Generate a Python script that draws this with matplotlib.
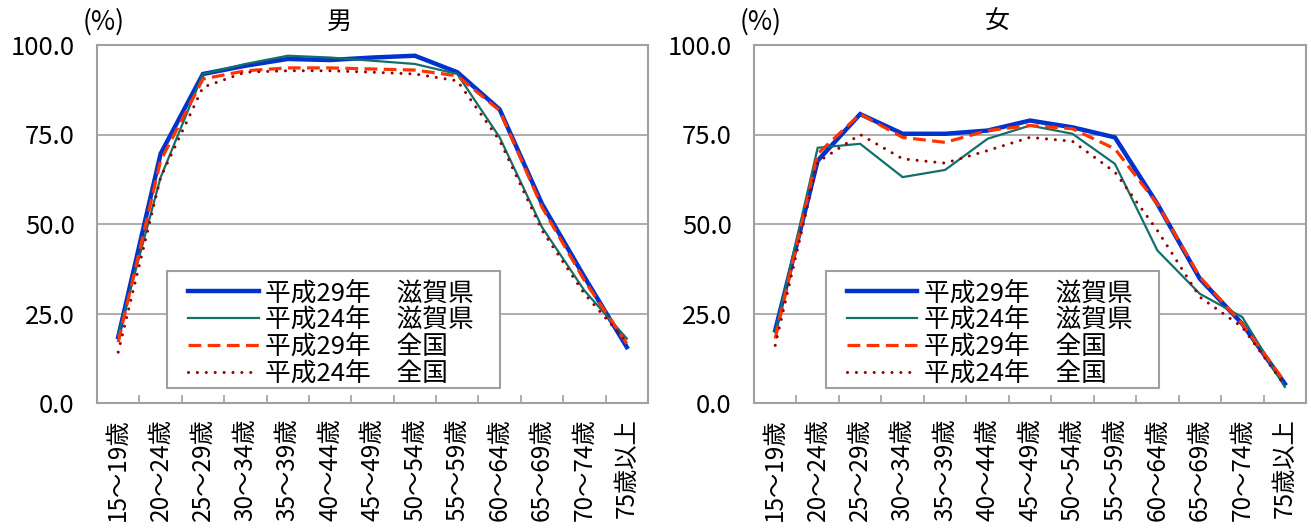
import matplotlib
matplotlib.use('Agg')
import matplotlib.pyplot as plt
from matplotlib.patches import Rectangle
import numpy as np

plt.rcParams['font.family'] = ['Noto Sans CJK JP', 'DejaVu Sans']

# age groups
ages = ['15～19歳', '20～24歳', '25～29歳', '30～34歳', '35～39歳',
        '40～44歳', '45～49歳', '50～54歳', '55～59歳', '60～64歳',
        '65～69歳', '70～74歳', '75歳以上']

series_names = ['平成29年　滋賀県', '平成24年　滋賀県', '平成29年　全国', '平成24年　全国']

# male labour force participation (%)
male_h29_shiga = [18.4, 69.6, 91.9, 94.2, 96.1, 95.8, 96.5, 97.0, 92.4, 82.0, 55.6, 35.2, 15.6]
male_h24_shiga = [18.9, 63.0, 91.9, 94.7, 97.0, 96.5, 95.6, 94.7, 91.9, 74.2, 49.1, 31.4, 18.0]
male_h29_japan = [17.0, 67.7, 90.5, 92.8, 93.6, 93.6, 93.3, 93.0, 91.4, 81.7, 54.7, 34.2, 16.6]
male_h24_japan = [14.2, 63.0, 88.2, 92.4, 92.8, 92.8, 92.4, 91.9, 90.0, 73.3, 48.2, 30.5, 17.0]

# female labour force participation (%)
female_h29_shiga = [20.3, 67.7, 80.7, 75.2, 75.2, 76.1, 78.9, 77.0, 74.2, 55.6, 34.7, 22.1, 5.4]
female_h24_shiga = [19.8, 71.3, 72.4, 63.1, 65.1, 73.8, 77.5, 75.2, 66.8, 42.6, 30.5, 24.0, 4.5]
female_h29_japan = [18.0, 69.6, 80.7, 74.2, 72.8, 76.1, 77.5, 76.6, 71.0, 55.6, 35.2, 22.1, 5.9]
female_h24_japan = [16.1, 67.3, 75.0, 68.2, 67.0, 70.5, 74.2, 73.1, 64.5, 48.2, 29.6, 21.2, 4.9]

yticks = [0, 25, 50, 75, 100]

styles = [dict(color='#0033cc', lw=3.2, ls='-'),
          dict(color='#12706a', lw=1.6, ls='-'),
          dict(color='#ff3300', lw=2.3, ls=(0, (4, 2))),
          dict(color='#990000', lw=2.2, ls=(0, (0.01, 2.9)), dash_capstyle='round')]

fig = plt.figure(figsize=(13.11, 5.28), dpi=100)
ax_m = fig.add_axes([97/1311, 1-403/528, 551/1311, 358/528])
ax_f = fig.add_axes([754/1311, 1-403/528, 552/1311, 358/528])

# legend box left edge (axes fraction) per panel
panels = [(ax_m, '男', 0.127, [male_h29_shiga, male_h24_shiga, male_h29_japan, male_h24_japan]),
          (ax_f, '女', 0.130, [female_h29_shiga, female_h24_shiga, female_h29_japan, female_h24_japan])]

x = np.arange(len(ages))
for ax, title, lx, data in panels:
    for vals, name, st in zip(data, series_names, styles):
        ax.plot(x, vals, label=name, solid_joinstyle='miter', **st)
    ax.set_xlim(-0.5, len(ages)-0.5)
    ax.set_ylim(0, 100)
    ax.set_yticks(yticks)
    ax.set_yticklabels(['%.1f' % v for v in yticks], fontsize=18.5)
    ax.tick_params(axis='y', length=0, pad=16)
    ax.set_xticks(x)
    ax.set_xticklabels(ages, rotation=90, fontsize=17.5)
    ax.tick_params(axis='x', which='major', length=0, pad=11)
    ax.set_xticks(np.arange(0.5, len(ages)-1, 1), minor=True)
    ax.tick_params(axis='x', which='minor', direction='in', length=6, color='#a0a0a0', width=1.2)
    ax.grid(axis='y', color='#a0a0a0', lw=1.2)
    ax.set_axisbelow(True)
    for sp in ax.spines.values():
        sp.set_color('#a0a0a0')
        sp.set_linewidth(1.5)
    ax.text(0.44, 1.065, title, transform=ax.transAxes, ha='center', va='center', fontsize=18)
    ax.text(0.012, 1.065, '(%)', transform=ax.transAxes, ha='center', va='center', fontsize=19)
    ax.add_patch(Rectangle((lx, 0.042), 0.604, 0.327, transform=ax.transAxes,
                           facecolor='white', edgecolor='#a0a0a0', lw=1.5, zorder=4))
    ax.legend(loc='lower left', bbox_to_anchor=(lx+0.038, 0.046), fontsize=18.5,
              handlelength=2.75, handletextpad=0.25, labelspacing=0.03,
              borderpad=0, borderaxespad=0, frameon=False)

fig.savefig('out.png', dpi=100)
